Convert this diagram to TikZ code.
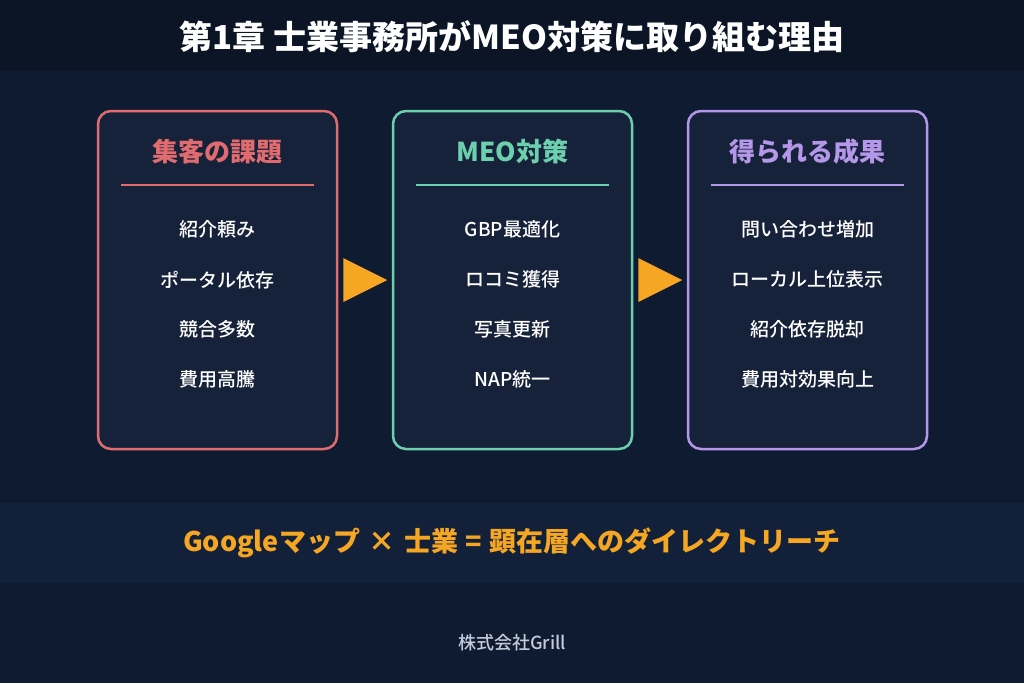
\documentclass[tikz,border=0pt]{standalone}
\usepackage{fontspec}
\setmainfont{Noto Sans CJK JP}
\newfontfamily\medf{Noto Sans CJK JP Medium}
\usetikzlibrary{calc}
\definecolor{bgc}{HTML}{0F1B31}
\definecolor{barc}{HTML}{0B1526}
\definecolor{boxc}{HTML}{16223A}
\definecolor{bandc}{HTML}{13203A}
\definecolor{redc}{HTML}{E06C70}
\definecolor{grnc}{HTML}{6CCFAD}
\definecolor{purc}{HTML}{B497E8}
\definecolor{orgc}{HTML}{F5A623}
\definecolor{footc}{HTML}{C3CCDA}
\tikzset{
  panel/.style={draw=#1, line width=2.5pt, fill=boxc, rounded corners=13pt,
    minimum width=239pt, minimum height=338pt, inner sep=0pt},
  headtxt/.style={text=#1, font=\fontsize{26}{30}\selectfont\bfseries, inner sep=0pt},
  itemtxt/.style={text=white, font=\fontsize{19}{22}\selectfont\medf, inner sep=0pt},
  rule/.style={draw=#1, line width=2pt},
  arrowtri/.style={fill=orgc},
}
\begin{document}
\begin{tikzpicture}[x=1pt,y=-1pt]
\useasboundingbox (0,0) rectangle (1024,683);
\fill[bgc] (0,0) rectangle (1024,683);
\fill[barc] (0,0) rectangle (1024,71);
\node[text=white, font=\fontsize{33}{36}\selectfont\bfseries, inner sep=0pt] (title) at (512,37) {第1章 士業事務所がMEO対策に取り組む理由};

% panels
\node[panel=redc] (b1) at (217.5,280) {};
\node[panel=grnc] (b2) at (512.5,280) {};
\node[panel=purc] (b3) at (807.5,280) {};

\foreach \b/\c/\h in {b1/redc/集客の課題, b2/grnc/MEO対策, b3/purc/得られる成果}{
  \node[headtxt=\c] (\b h) at ($(\b.north)+(0,42)$) {\h};
  \draw[rule=\c] ($(\b.north west)+(24,75)$) -- ($(\b.north east)+(-24,75)$);
}
\node[itemtxt] (b1i1) at ($(b1.north)+(0,120)$) {紹介頼み};
\node[itemtxt] (b1i2) at ($(b1.north)+(0,170)$) {ポータル依存};
\node[itemtxt] (b1i3) at ($(b1.north)+(0,220)$) {競合多数};
\node[itemtxt] (b1i4) at ($(b1.north)+(0,270)$) {費用高騰};
\node[itemtxt] (b2i1) at ($(b2.north)+(0,120)$) {GBP最適化};
\node[itemtxt] (b2i2) at ($(b2.north)+(0,170)$) {ロコミ獲得};
\node[itemtxt] (b2i3) at ($(b2.north)+(0,220)$) {写真更新};
\node[itemtxt] (b2i4) at ($(b2.north)+(0,270)$) {NAP統一};
\node[itemtxt] (b3i1) at ($(b3.north)+(0,120)$) {問い合わせ増加};
\node[itemtxt] (b3i2) at ($(b3.north)+(0,170)$) {ローカル上位表示};
\node[itemtxt] (b3i3) at ($(b3.north)+(0,220)$) {紹介依存脱却};
\node[itemtxt] (b3i4) at ($(b3.north)+(0,270)$) {費用対効果向上};

% arrows
\fill[arrowtri] ($(b1.east)+(5,-22)$) -- ($(b1.east)+(49,0)$) -- ($(b1.east)+(5,22)$) -- cycle;
\fill[arrowtri] ($(b2.east)+(5,-22)$) -- ($(b2.east)+(49,0)$) -- ($(b2.east)+(5,22)$) -- cycle;

% band
\fill[bandc] (0,503) rectangle (1024,583);
\node[text=orgc, font=\fontsize{27}{30}\selectfont\bfseries, inner sep=0pt] (tag) at (512,543) {Googleマップ\hspace{0.32em}×\hspace{0.32em}士業\hspace{0.28em}=\hspace{0.28em}顕在層へのダイレクトリーチ};

\node[text=footc, font=\fontsize{18}{20}\selectfont\medf, inner sep=0pt] (foot) at (512,643) {株式会社Grill};
\end{tikzpicture}
\end{document}
